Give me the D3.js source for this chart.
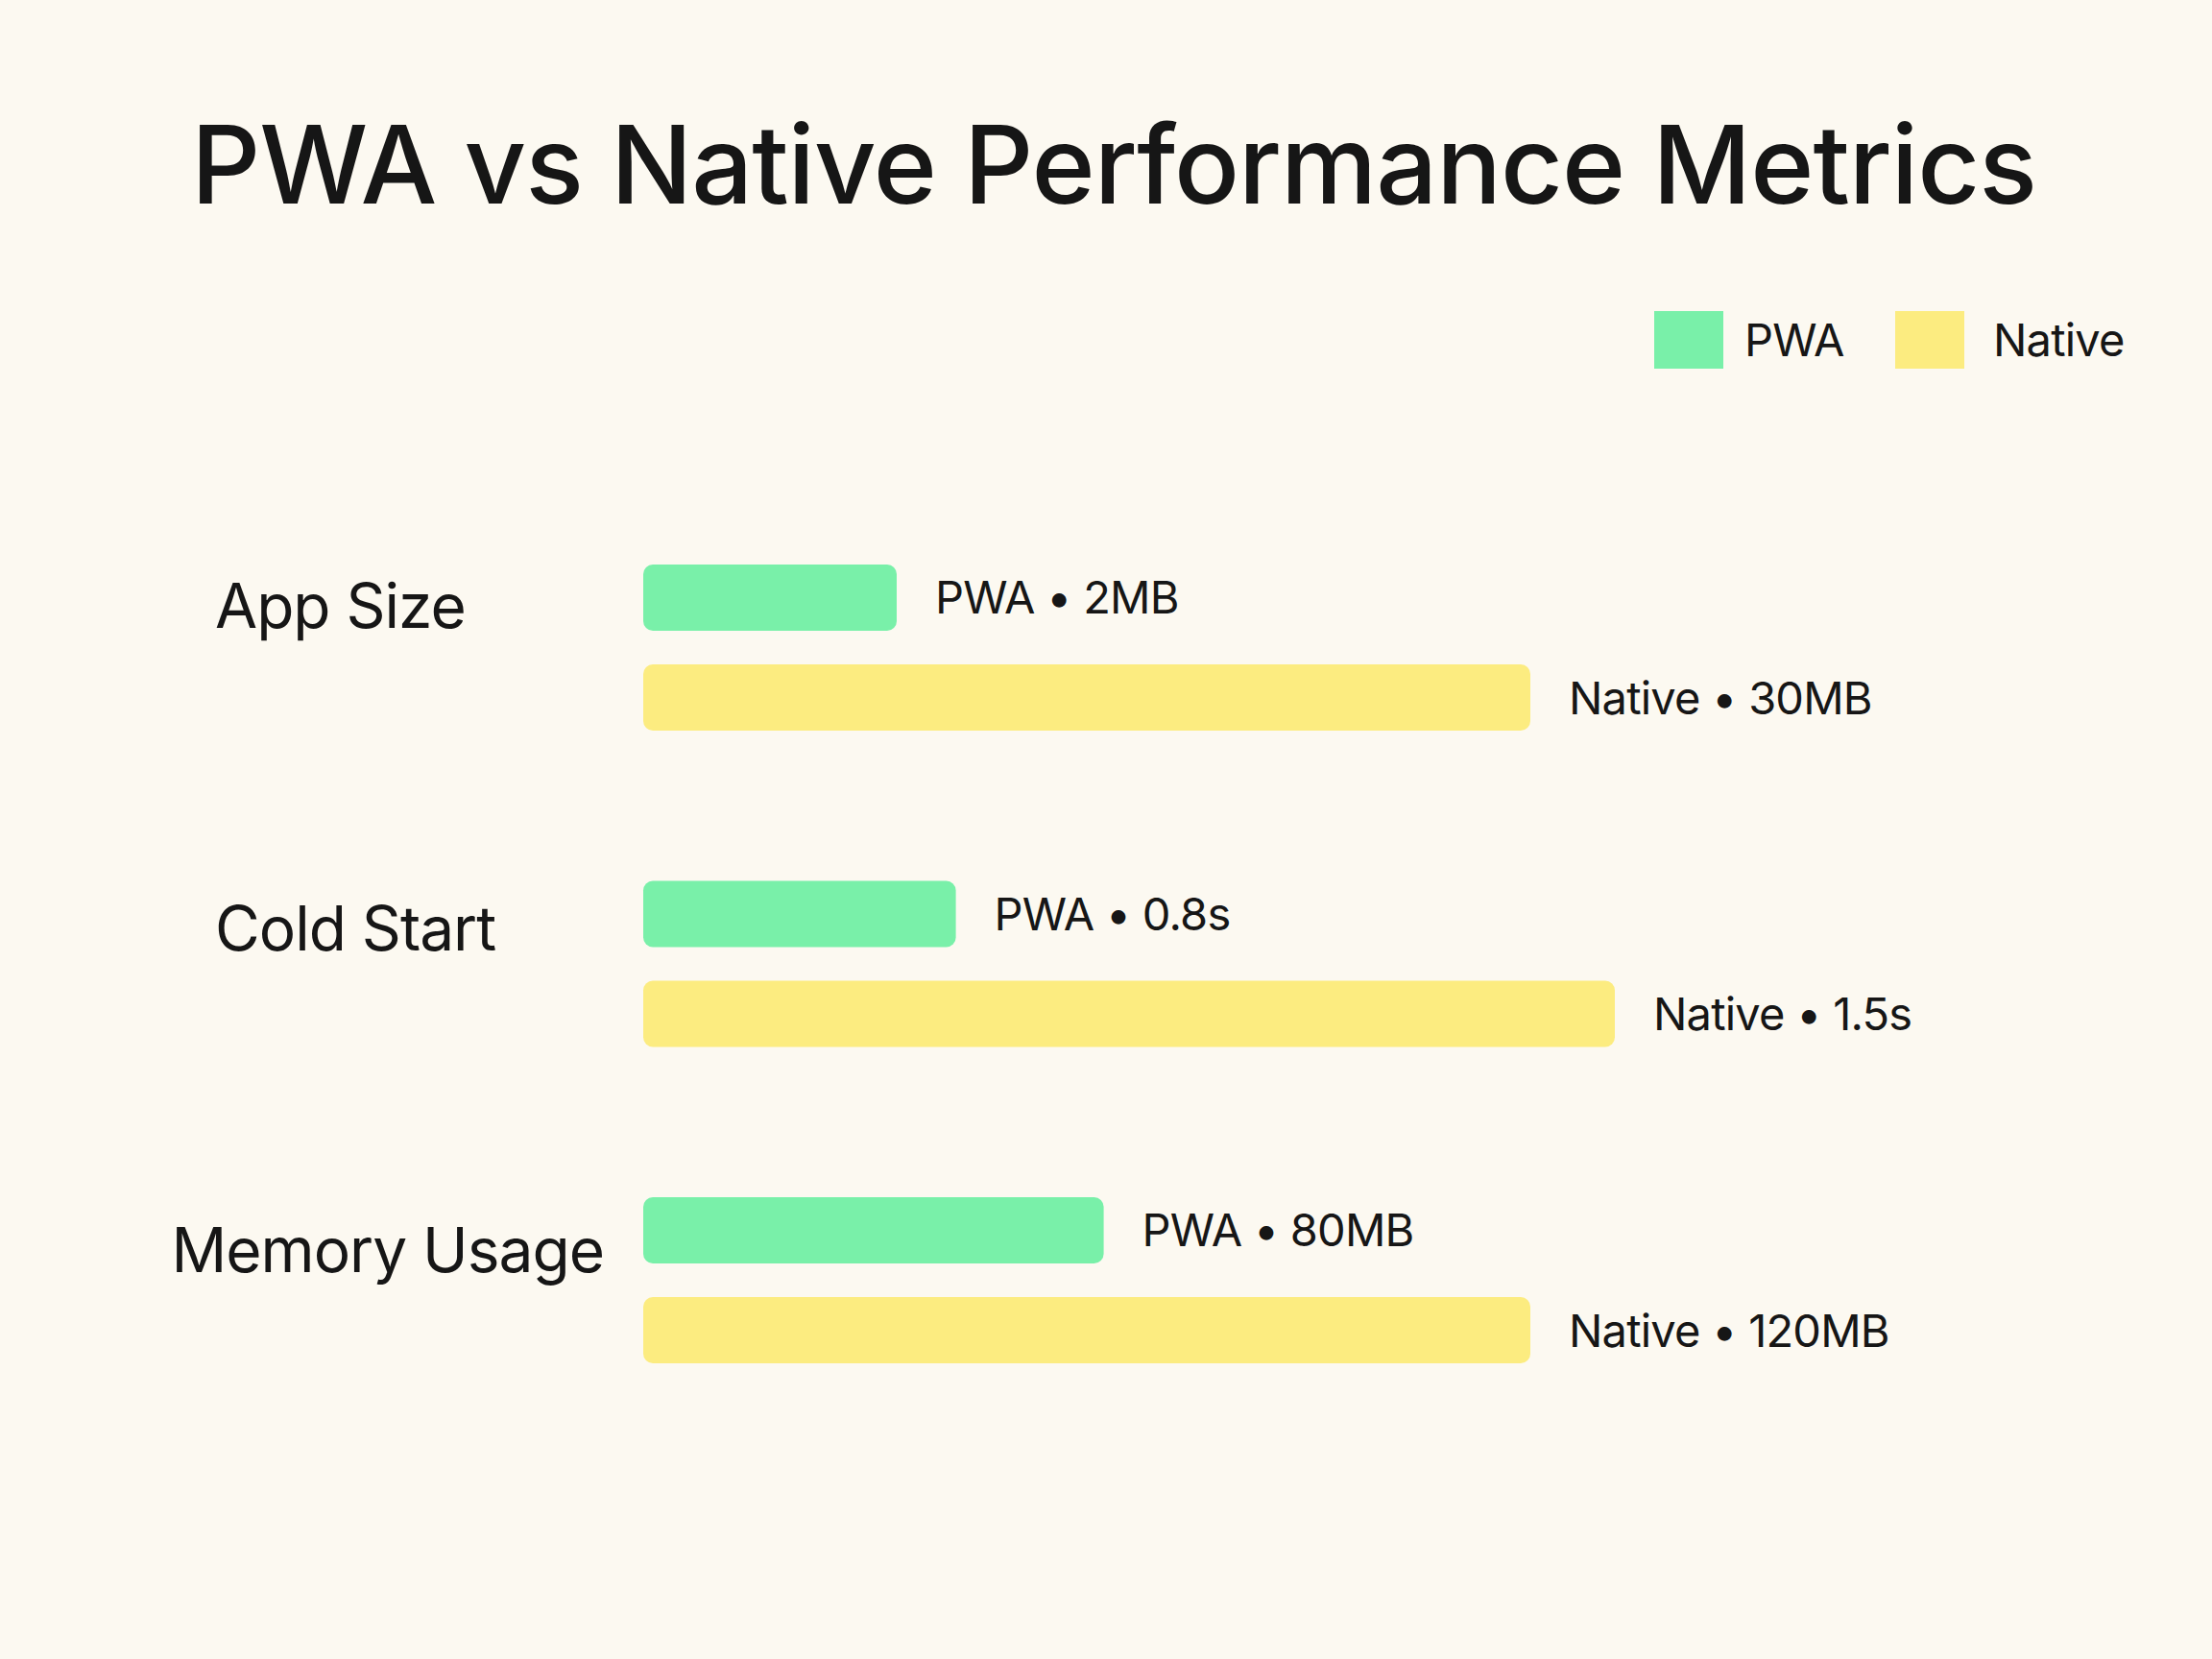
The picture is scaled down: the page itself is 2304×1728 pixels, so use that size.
<!DOCTYPE html>
<html>
<head>
<meta charset="utf-8">
<script src="https://cdn.jsdelivr.net/npm/d3@7"></script>
<style>
  html, body { margin: 0; padding: 0; background: #FCF9F1; }
  svg { display: block; }
  text { font-family: Inter, "Noto Sans", sans-serif; fill: #161616; }
</style>
</head>
<body>
<script>
// ---- data ----
const categories = ["App Size", "Cold Start", "Memory Usage"];
const series = ["PWA", "Native"];
// bar lengths as drawn in the reference (relative index, 0-100)
const pwaBar = [24, 29.6, 43.6];
const nativeBar = [84, 92, 84];
// value labels shown next to each bar
const pwaLabels = ["2MB", "0.8s", "80MB"];
const nativeLabels = ["30MB", "1.5s", "120MB"];
const colors = { PWA: "#79F0A9", Native: "#FCEC80" };
const title = "PWA vs Native Performance Metrics";

const W = 2304, H = 1728;
const svg = d3.select("body").append("svg").attr("width", W).attr("height", H);
svg.append("rect").attr("width", W).attr("height", H).attr("fill", "#FCF9F1");

// title
const t = svg.append("text")
  .attr("x", 1160).attr("y", 212)
  .attr("text-anchor", "middle")
  .attr("font-size", 124)
  .attr("font-weight", 500)
  .style("letter-spacing", "-1px")
  .text(title);
const tw = t.node().getComputedTextLength();
if (tw > 0) t.attr("font-size", 124 * 1925 / tw);

// legend
const legend = svg.append("g");
const legendX = d3.scaleOrdinal().domain(series).range([1723, 1974]);
series.forEach(s => {
  const g = legend.append("g").attr("transform", `translate(${legendX(s)},324)`);
  g.append("rect").attr("width", 72).attr("height", 60).attr("fill", colors[s]);
  g.append("text").attr("x", s === "PWA" ? 94 : 102).attr("y", 47).attr("font-size", 47)
    .style("letter-spacing", "-0.8px").text(s);
});

// scales
const x = d3.scaleLinear().domain([0, 100]).range([670, 1770]);
const y0 = d3.scaleBand().domain(categories).range([588, 588 + 3 * 329.5]).padding(0);
const y1 = d3.scaleBand().domain(series).range([0, 173]).paddingInner(0.337).paddingOuter(0);

const rows = categories.map((c, i) => ({
  cat: c,
  bars: [
    { s: "PWA", v: pwaBar[i], label: "PWA • " + pwaLabels[i] },
    { s: "Native", v: nativeBar[i], label: "Native • " + nativeLabels[i] }
  ]
}));

const groups = svg.selectAll("g.row").data(rows).enter().append("g")
  .attr("class", "row")
  .attr("transform", d => `translate(0,${y0(d.cat)})`);

groups.selectAll("rect.bar").data(d => d.bars).enter().append("rect")
  .attr("class", "bar")
  .attr("x", x(0))
  .attr("y", d => y1(d.s))
  .attr("width", d => x(d.v) - x(0))
  .attr("height", y1.bandwidth())
  .attr("rx", 10).attr("ry", 10)
  .attr("fill", d => colors[d.s]);

groups.selectAll("text.val").data(d => d.bars).enter().append("text")
  .attr("class", "val")
  .attr("x", d => x(d.v) + 40)
  .attr("y", d => y1(d.s) + y1.bandwidth() / 2 + 17)
  .attr("font-size", 47)
  .style("letter-spacing", "-0.8px")
  .text(d => d.label);

// category labels: left aligned, pushed left if they would run into the bars
groups.append("text")
  .attr("class", "cat")
  .attr("y", (d, i) => y1("PWA") + y1.bandwidth() / 2 + 32 + i * 6)
  .attr("font-size", 64)
  .style("letter-spacing", "-1px")
  .text(d => d.cat)
  .each(function () {
    const w = this.getComputedTextLength();
    const maxRight = x(0) - 41;
    const left = Math.min(224, maxRight - w);
    d3.select(this).attr("x", left);
  });
</script>
</body>
</html>
